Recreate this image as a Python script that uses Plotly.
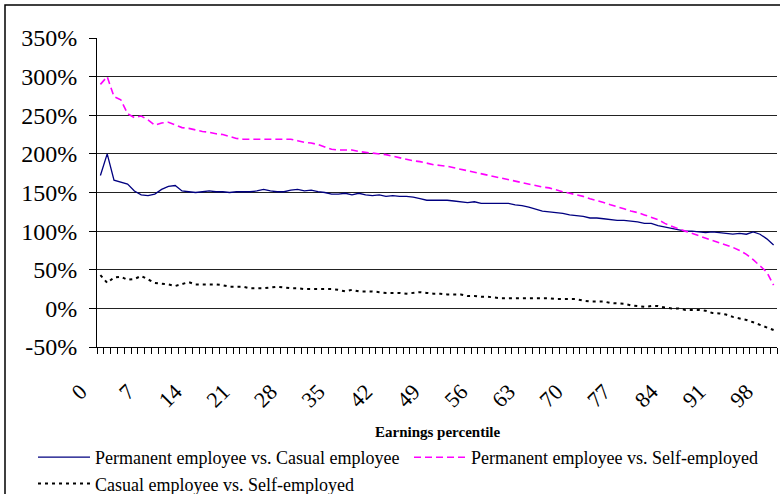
import plotly.graph_objects as go

# earnings percentile (categories 0..99)
percentile = list(range(100))
x_tick_vals = list(range(0, 100, 7))
x_tick_labels = [str(v) for v in x_tick_vals]
y_tick_vals = [-0.5, 0, 0.5, 1, 1.5, 2, 2.5, 3, 3.5]
y_tick_labels = ["-50%", "0%", "50%", "100%", "150%", "200%", "250%", "300%", "350%"]

perm_vs_casual = [172, 200, 166, 163, 161, 152, 147, 146, 148, 154,
                  158, 159, 152, 151, 150, 151, 152, 151, 151, 150,
                  151, 151, 151, 152, 154, 152, 151, 151, 153, 154,
                  152, 153, 151, 150, 148, 148, 149, 147, 149, 147,
                  146, 147, 145, 146, 145, 145, 144, 142, 140, 140,
                  140, 140, 139, 138, 137, 138, 136, 136, 136, 136,
                  136, 134, 133, 131, 128, 126, 125, 124, 123, 121,
                  120, 119, 117, 117, 116, 115, 114, 114, 113, 112,
                  110, 110, 107, 105, 103, 101, 100, 100, 99, 98,
                  99, 98, 97, 96, 97, 96, 99, 96, 90, 82]

perm_vs_self = [290, 300, 274, 270, 252, 247, 249, 244, 237, 240,
                241, 237, 234, 233, 231, 229, 228, 226, 225, 222,
                220, 219, 219, 219, 219, 219, 219, 219, 219, 217,
                215, 214, 212, 209, 206, 205, 205, 205, 203, 202,
                201, 200, 199, 197, 195, 193, 191, 190, 188, 186,
                185, 184, 182, 180, 178, 176, 174, 172, 170, 168,
                166, 164, 162, 160, 159, 157, 156, 153, 151, 149,
                147, 145, 142, 140, 137, 134, 132, 129, 126, 124,
                121, 118, 115, 110, 106, 103, 100, 97, 94, 91,
                88, 86, 82, 79, 75, 70, 63, 55, 47, 30]

casual_vs_self = [43, 33, 40, 41, 37, 38, 42, 38, 33, 32,
                  31, 29, 32, 34, 31, 31, 31, 31, 30, 28,
                  28, 28, 26, 26, 26, 27, 28, 27, 26, 26,
                  25, 25, 25, 25, 25, 24, 22, 24, 22, 22,
                  22, 21, 20, 20, 20, 19, 20, 21, 20, 19,
                  19, 18, 18, 18, 16, 16, 15, 15, 14, 13,
                  13, 13, 13, 13, 13, 13, 13, 12, 12, 12,
                  12, 10, 9, 9, 9, 7, 6.5, 6, 4, 3,
                  2, 3, 3, 1, 0, 0, -2, -2, -2, -3,
                  -6, -6.5, -8, -11, -13, -15, -18, -21, -24, -28]

serif = "Liberation Serif, Times New Roman, serif"

fig = go.Figure()
fig.add_trace(go.Scatter(x=percentile, y=[v / 100 for v in perm_vs_casual],
                         mode="lines", name="Permanent employee vs. Casual employee",
                         line=dict(color="#000080", width=1.3)))
fig.add_trace(go.Scatter(x=percentile, y=[v / 100 for v in perm_vs_self],
                         mode="lines", name="Permanent employee vs. Self-employed",
                         line=dict(color="#ff00ff", width=1.6, dash="7px,4px")))
fig.add_trace(go.Scatter(x=percentile, y=[v / 100 for v in casual_vs_self],
                         mode="lines", name="Casual employee vs. Self-employed",
                         line=dict(color="#000000", width=2, dash="3px,4px")))

fig.update_layout(
    width=780, height=494,
    margin=dict(l=97, r=3, t=38, b=147, autoexpand=False),
    paper_bgcolor="white", plot_bgcolor="white",
    font=dict(family=serif, color="black"),
    showlegend=True,
    legend=dict(orientation="h", x=(33 - 97) / 680, xanchor="left",
                y=(347 - 439) / 309, yanchor="top",
                font=dict(family=serif, size=18),
                entrywidth=309, entrywidthmode="pixels",
                itemwidth=52, tracegroupgap=0),
)

fig.update_xaxes(
    range=[-0.5, 99.5], automargin=False,
    tickmode="array", tickvals=x_tick_vals, ticktext=x_tick_labels,
    tickangle=-45, ticks="", ticklabelstandoff=22, ticklabelshift=-20,
    tickfont=dict(family=serif, size=22),
    showgrid=False, zeroline=False,
    showline=True, linecolor="black", linewidth=1,
    minor=dict(ticks="outside", tick0=-0.5, dtick=1, ticklen=6,
               tickcolor="black", showgrid=False),
)

fig.update_yaxes(
    range=[-0.5, 3.5], automargin=False,
    tickmode="array", tickvals=y_tick_vals, ticktext=y_tick_labels,
    ticks="outside", ticklen=7, tickcolor="black", ticklabelstandoff=7,
    tickfont=dict(family=serif, size=24),
    showgrid=True, gridcolor="#222222", gridwidth=1,
    zeroline=False, showline=True, linecolor="black", linewidth=1,
)

fig.add_annotation(text="<b>Earnings percentile</b>", xref="paper", yref="paper",
                   x=0.5, y=(347 - 432) / 309, xanchor="center", yanchor="middle",
                   showarrow=False, font=dict(family=serif, size=15))

# outer chart border
fig.add_shape(type="rect", xref="paper", yref="paper",
              x0=(5 - 97) / 680, x1=(790 - 97) / 680,
              y0=(347 - 510) / 309, y1=(347 - 5) / 309,
              line=dict(color="black", width=1.5), fillcolor="rgba(0,0,0,0)",
              layer="below")

# page body margin off so the figure sits at the window's corner
fig.write_html("out.html", config={"displayModeBar": False},
               post_script="document.body.style.margin = '0';")
